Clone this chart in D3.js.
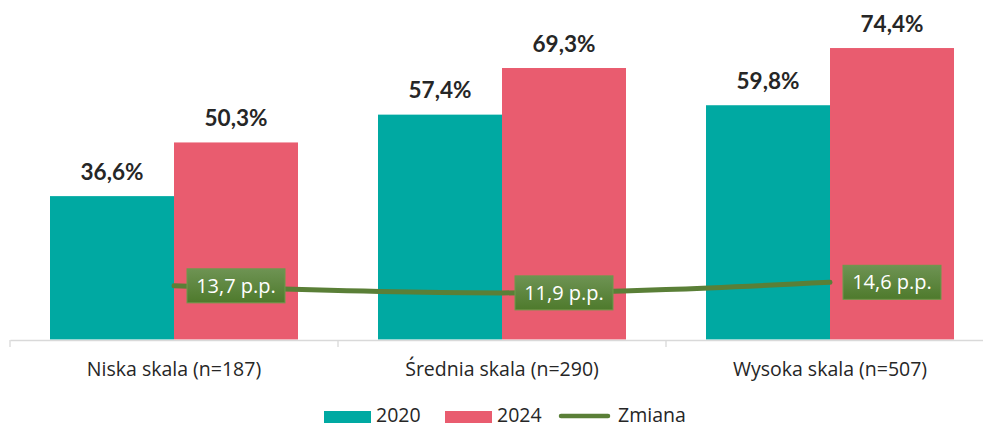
<!DOCTYPE html>
<html><head><meta charset="utf-8">
<script src="https://cdn.jsdelivr.net/npm/d3@7"></script>
<style>
html,body{margin:0;padding:0;background:#fff;overflow:hidden}
svg{display:block}
</style></head>
<body>
<svg id="chart" width="983" height="423"></svg>
<script>
const categories = ["Niska skala (n=187)", "Średnia skala (n=290)", "Wysoka skala (n=507)"];
const seriesNames = ["2020", "2024"];
const values2020 = [36.6, 57.4, 59.8];
const values2024 = [50.3, 69.3, 74.4];
const zmiana = [13.7, 11.9, 14.6];
const zmianaLabels = ["13,7 p.p.", "11,9 p.p.", "14,6 p.p."];
const colors = {"2020": "#00A9A2", "2024": "#E95C6F", "Zmiana": "#5A7F37"};

const svg = d3.select("#chart");
const x = d3.scaleBand().domain(categories).range([10, 994]).padding(0);
const xs = d3.scaleBand().domain(seriesNames).range([40, x.bandwidth() - 40]).padding(0);
const y = d3.scaleLinear().domain([0, 80]).range([339.5, 26.1]);

const fmt = v => v.toFixed(1).replace(".", ",") + "%";

const data = [];
categories.forEach((c, i) => {
  data.push({c, s: "2020", v: values2020[i]});
  data.push({c, s: "2024", v: values2024[i]});
});

const defs = svg.append("defs");
const grad = defs.append("linearGradient").attr("id", "gbox").attr("x1", 0).attr("y1", 0).attr("x2", 0).attr("y2", 1);
grad.append("stop").attr("offset", "0%").attr("stop-color", "#6E9353");
grad.append("stop").attr("offset", "100%").attr("stop-color", "#4E7A2C");

// bars
svg.append("g").selectAll("rect").data(data).join("rect")
  .attr("x", d => x(d.c) + xs(d.s))
  .attr("y", d => y(d.v))
  .attr("width", xs.bandwidth())
  .attr("height", d => y(0) - y(d.v))
  .attr("fill", d => colors[d.s]);

// bar labels
svg.append("g").selectAll("text").data(data).join("text")
  .attr("x", d => x(d.c) + xs(d.s) + xs.bandwidth() / 2)
  .attr("y", d => y(d.v) - 16.5)
  .attr("text-anchor", "middle")
  .attr("font-family", "Lato, sans-serif")
  .attr("font-weight", "bold")
  .attr("font-size", 22.5)
  .attr("fill", "#262626")
  .text(d => fmt(d.v));

// axis
const axis = d3.axisBottom(x).tickSize(7).tickSizeOuter(0).tickFormat(d => d);
const gx = svg.append("g").attr("transform", `translate(0,${y(0) + 0.5})`);
gx.call(axis);
gx.select(".domain").attr("stroke", "#D9D9D9").attr("stroke-width", 1.3);
gx.selectAll(".tick line").remove();
gx.selectAll(".tick text")
  .attr("font-family", "'Open Sans', sans-serif")
  .attr("font-size", 19.5)
  .attr("fill", "#262626")
  .attr("dy", null)
  .attr("y", 35.5);
// category boundary ticks
const bounds = [0, 1, 2, 3].map(i => 10 + i * x.step());
gx.selectAll(".bnd").data(bounds).join("line").attr("class", "bnd")
  .attr("x1", d => d).attr("x2", d => d).attr("y1", 0).attr("y2", 7)
  .attr("stroke", "#D9D9D9").attr("stroke-width", 1.3);

// line
const pts = categories.map((c, i) => [x(c) + x.bandwidth() / 2, y(zmiana[i])]);
svg.append("path")
  .attr("d", d3.line().curve(d3.curveMonotoneX)(pts))
  .attr("fill", "none")
  .attr("stroke", colors.Zmiana)
  .attr("stroke-width", 5)
  .attr("stroke-linecap", "round");

// line labels
const lg = svg.append("g").selectAll("g").data(pts).join("g")
  .attr("transform", d => `translate(${d[0] + 13},${d[1]})`);
lg.append("rect")
  .attr("x", 0).attr("y", -17).attr("width", 98).attr("height", 34)
  .attr("fill", "url(#gbox)").attr("stroke", "#6C9A4A").attr("stroke-width", 1);
lg.append("text")
  .attr("x", 49).attr("y", 7)
  .attr("text-anchor", "middle")
  .attr("font-family", "'Open Sans', sans-serif")
  .attr("font-size", 20)
  .attr("fill", "#fff")
  .text((d, i) => zmianaLabels[i]);

// legend
const leg = svg.append("g");
const legItems = [
  {name: "2020", type: "rect", x: 324},
  {name: "2024", type: "rect", x: 445},
  {name: "Zmiana", type: "line", x: 559}
];
legItems.forEach(it => {
  if (it.type === "rect") {
    leg.append("rect").attr("x", it.x).attr("y", 411).attr("width", 47).attr("height", 13).attr("fill", colors[it.name]);
    leg.append("text").attr("x", it.x + 52).attr("y", 421.5)
      .attr("font-family", "'Open Sans', sans-serif").attr("font-size", 19.5).attr("fill", "#262626").text(it.name);
  } else {
    leg.append("line").attr("x1", it.x + 2).attr("x2", it.x + 49).attr("y1", 416).attr("y2", 416)
      .attr("stroke", colors[it.name]).attr("stroke-width", 4.5).attr("stroke-linecap", "round");
    leg.append("text").attr("x", it.x + 59).attr("y", 421.5)
      .attr("font-family", "'Open Sans', sans-serif").attr("font-size", 19.5).attr("fill", "#262626").text(it.name);
  }
});
</script>
</body></html>
